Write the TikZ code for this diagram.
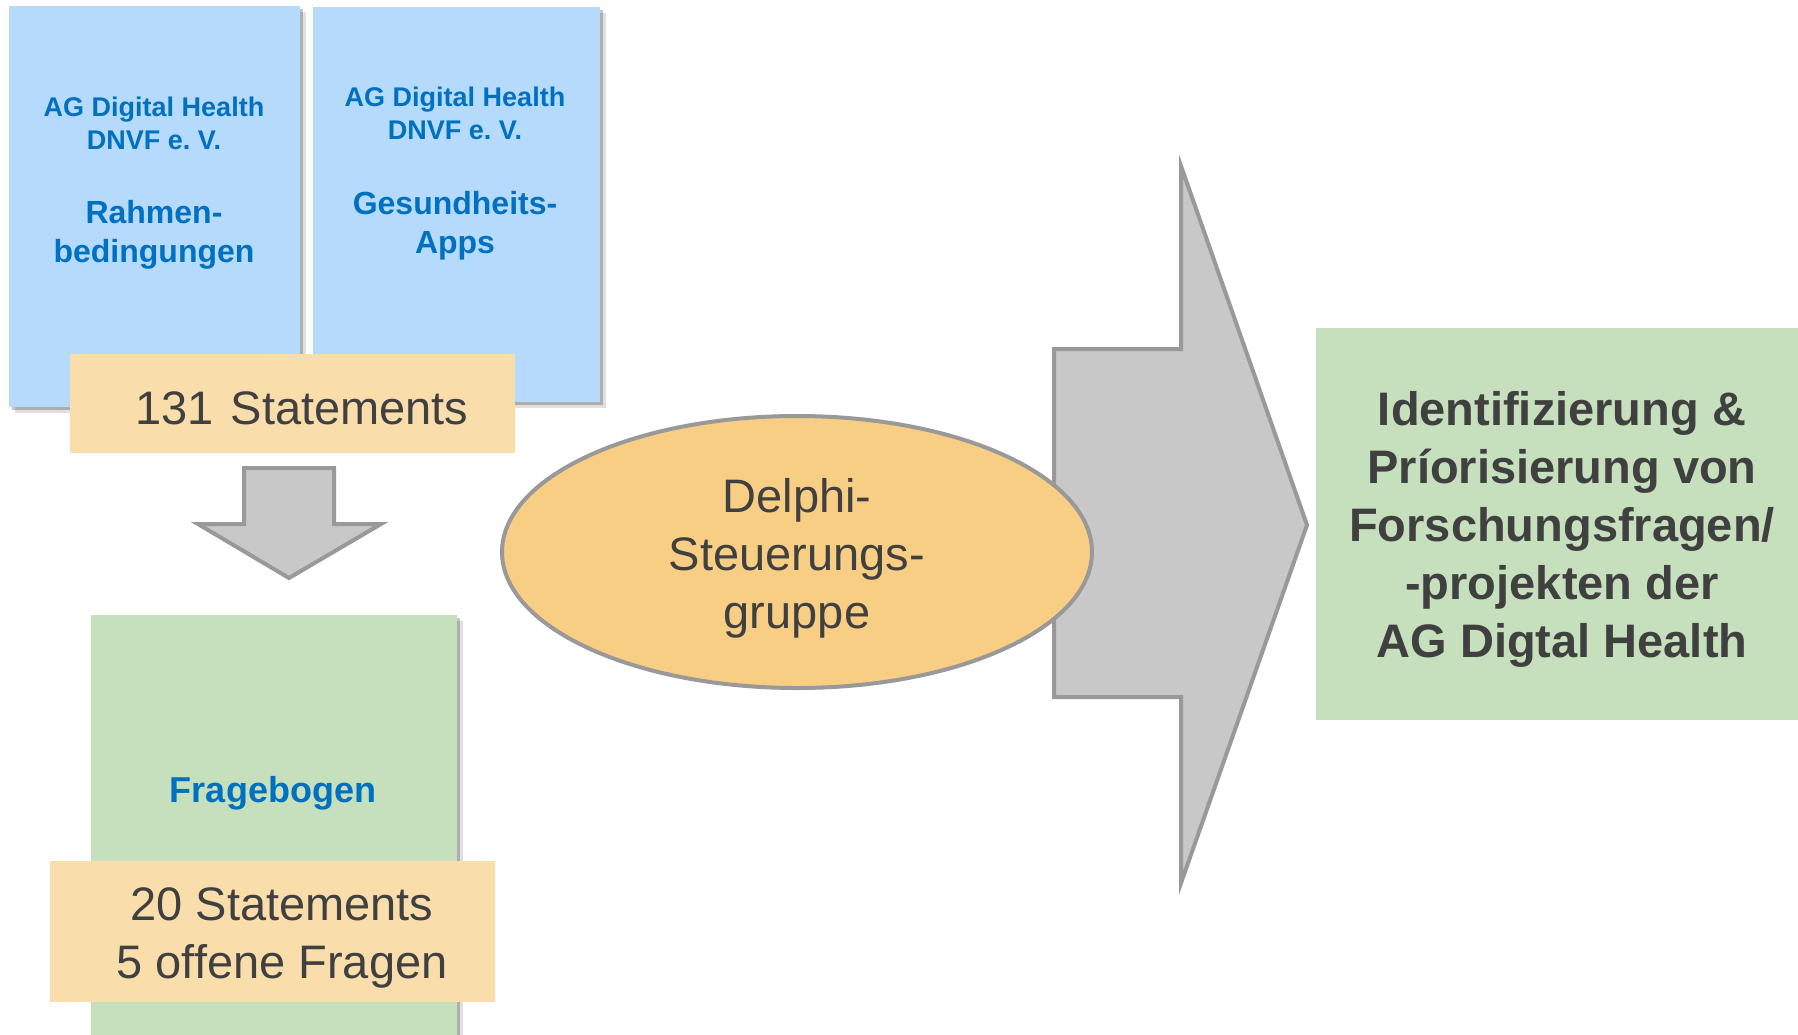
\documentclass[tikz,border=0pt]{standalone}
\usepackage{fontspec}
\setmainfont{Liberation Sans}
\usetikzlibrary{shadows,shapes.geometric}
\definecolor{boxblue}{HTML}{B6DAFB}
\definecolor{boxorange}{HTML}{F9DEAC}
\definecolor{boxgreen}{HTML}{C6DFBC}
\definecolor{ellfill}{HTML}{F7CE84}
\definecolor{arrowfill}{HTML}{C8C8C8}
\definecolor{arrowline}{HTML}{999999}
\definecolor{txtblue}{HTML}{0070C0}
\definecolor{txtdark}{HTML}{404040}
\begin{document}
\begin{tikzpicture}[x=1pt,y=-1pt,
  shadowed/.style={
    drop shadow={shadow xshift=3pt, shadow yshift=-3pt, opacity=0.22, fill=black},
    drop shadow={shadow xshift=6pt, shadow yshift=-6pt, opacity=0.12, fill=black}},
  bluebox/.style={rectangle, fill=boxblue, draw=none, inner sep=0pt, shadowed},
  greenbox/.style={rectangle, fill=boxgreen, draw=none, inner sep=0pt},
  orangebox/.style={rectangle, fill=boxorange, draw=none, inner sep=0pt},
  bluesmall/.style={text=txtblue, align=center, font=\fontsize{27}{33}\selectfont\bfseries},
  bluebig/.style={text=txtblue, align=center, font=\fontsize{32}{39}\selectfont\bfseries},
  darktxt/.style={text=txtdark, align=center, font=\fontsize{47}{58}\selectfont},
  darkbold/.style={text=txtdark, align=center, font=\fontsize{47}{58}\selectfont\bfseries},
  grayarrow/.style={fill=arrowfill, draw=arrowline, line width=4pt, line join=miter}
]
\useasboundingbox (0,0) rectangle (1798,1034);
\fill[white] (0,0) rectangle (1798,1034);

% top left blue boxes
\node[bluebox, minimum width=291, minimum height=401] (rahmen) at (154.5,206.5) {};
\node[bluebox, minimum width=287, minimum height=395] (gesund) at (456.5,204.5) {};
\node[bluesmall] (rahmenag) at (154,123) {AG Digital Health\\DNVF e.~V.};
\node[bluebig] (rahmentxt) at (154,235) {Rahmen-\\bedingungen};
\node[bluesmall] (gesundag) at (455,113) {AG Digital Health\\DNVF e.~V.};
\node[bluebig] (gesundtxt) at (455,226) {Gesundheits-\\Apps};

% 131 statements
\node[orangebox, minimum width=445, minimum height=99] (stat131) at (292.5,403.5) {};
\node[darktxt] (stat131txt) at (302,408) {131\hspace{0.08em} Statements};

% down arrow
\draw[grayarrow] (244,468) -- (334,468) -- (334,524) -- (381,524) -- (289,578) -- (198,524) -- (244,524) -- cycle;

% Fragebogen
\node[greenbox, shadowed, minimum width=366, minimum height=430] (frage) at (274,830) {};
\node[text=txtblue, font=\fontsize{36}{43}\selectfont\bfseries] (fragetxt) at (273,793.5) {Fragebogen};
\node[orangebox, minimum width=445, minimum height=141] (stat20) at (272.5,931.5) {};
\node[darktxt] (stat20txt) at (282,938) {20 Statements\\5 offene Fragen};

% big arrow
\draw[grayarrow] (1054,349) -- (1181,349) -- (1181,166) -- (1307,525) -- (1181,883) -- (1181,697) -- (1054,697) -- cycle;

% ellipse
\node[ellipse, fill=ellfill, draw=arrowline, line width=4pt, minimum width=590, minimum height=272, inner sep=0pt] (delphi) at (797,552) {};
\node[darktxt] (delphitxt) at (797,558) {Delphi-\\Steuerungs-\\gruppe};

% right green box
\node[greenbox, minimum width=484, minimum height=392] (ident) at (1558,524) {};
\node[darkbold] (identtxt) at (1562,529) {Identifizierung \&\\Príorisierung von\\Forschungsfragen/\\-projekten der\\AG Digtal Health};
\end{tikzpicture}
\end{document}
